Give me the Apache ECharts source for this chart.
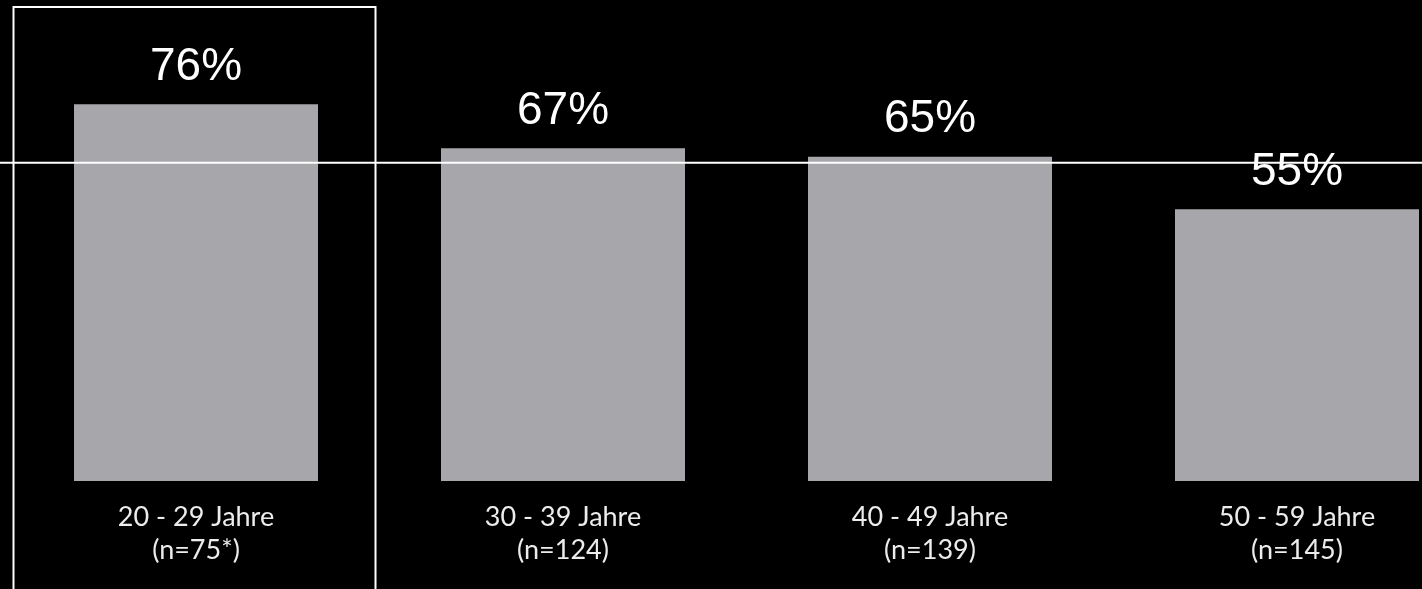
<!DOCTYPE html>
<html>
<head>
<meta charset="utf-8">
<script src="https://cdn.jsdelivr.net/npm/echarts@6/dist/echarts.min.js"></script>
<style>
html,body{margin:0;padding:0;background:#000;}
#chart{width:1422px;height:589px;}
</style>
</head>
<body>
<div id="chart"></div>
<script>
const categories = ['20 - 29 Jahre\n(n=75*)', '30 - 39 Jahre\n(n=124)', '40 - 49 Jahre\n(n=139)', '50 - 59 Jahre\n(n=145)'];
const values = [76.0, 67.1, 65.4, 54.8];
const referenceValue = 64.2;
const highlightIndex = 0;

const chart = echarts.init(document.getElementById('chart'));
chart.setOption({
  backgroundColor: '#000',
  animation: false,
  grid: { left: 12.5, right: -58.5, top: 0, bottom: 108, outerBoundsMode: 'none', containLabel: false },
  xAxis: {
    type: 'category',
    data: categories,
    axisLine: { show: false },
    axisTick: { show: false },
    axisLabel: {
      color: '#ececec',
      fontFamily: 'Lato',
      fontSize: 27,
      lineHeight: 33,
      margin: 20
    }
  },
  yAxis: {
    type: 'value',
    min: 0,
    max: 97,
    show: false,
    splitLine: { show: false }
  },
  series: [{
    type: 'bar',
    data: values,
    barWidth: 244,
    itemStyle: { color: '#a7a6aa' },
    label: {
      show: true,
      position: 'top',
      distance: 14,
      formatter: p => Math.round(p.value) + '%',
      color: '#ffffff',
      fontFamily: 'Liberation Sans',
      fontSize: 46
    }
  }]
});

const yRef = chart.convertToPixel({ gridIndex: 0 }, [0, referenceValue])[1];
const c0 = chart.convertToPixel({ gridIndex: 0 }, [highlightIndex, 0])[0];
const c1 = chart.convertToPixel({ gridIndex: 0 }, [highlightIndex + 1, 0])[0];
const band = c1 - c0;
chart.setOption({
  graphic: [
    {
      type: 'line',
      shape: { x1: 0, y1: yRef, x2: 1422, y2: yRef },
      style: { stroke: '#ffffff', lineWidth: 2 },
      z: 10
    },
    {
      type: 'rect',
      shape: { x: c0 - band / 2 + 1, y: 7, width: band - 5, height: 600 },
      style: { stroke: '#ffffff', lineWidth: 2, fill: 'none' },
      z: 10
    }
  ]
});
</script>
</body>
</html>
